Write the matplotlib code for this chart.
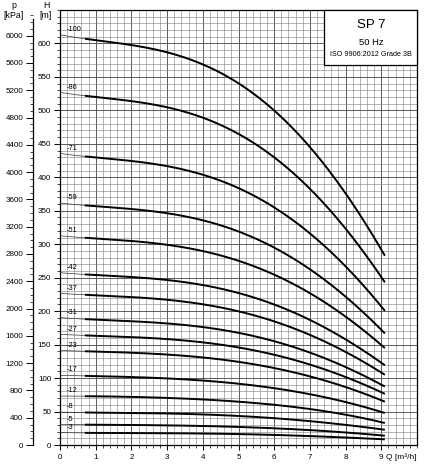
import numpy as np
import matplotlib
matplotlib.use('Agg')
import matplotlib.pyplot as plt
from matplotlib.patches import Rectangle
from matplotlib.ticker import MultipleLocator

plt.rcParams['font.family'] = ['Liberation Sans', 'DejaVu Sans']

Q_POINTS = [0, 1, 2, 3, 4, 5, 6, 7, 8, 8.5, 9.1]

# Number of stages for each curve
STAGES = [100, 86, 71, 59, 51, 42, 37, 31, 27, 23, 17, 12, 8, 5, 3]

# Head (m) per curve at Q_POINTS
H_100 = [612, 607, 598, 585, 567, 542, 500, 448, 374, 333, 285]
H_86 = [526, 522, 514, 503, 488, 466, 430, 385, 322, 286, 245]
H_71 = [435, 431, 425, 415, 403, 385, 355, 318, 266, 236, 202]
H_59 = [361, 358, 353, 345, 335, 320, 295, 264, 221, 196, 168]
H_51 = [312, 310, 305, 298, 289, 276, 255, 228, 191, 170, 146]
H_42 = [257, 255, 251, 246, 238, 228, 210, 188, 157, 140, 120]
H_37 = [226, 225, 221, 216, 210, 200, 185, 166, 138, 123, 106]
H_31 = [190, 188, 185, 181, 176, 168, 155, 139, 116, 103, 88]
H_27 = [165, 164, 161, 158, 153, 146, 135, 121, 101, 90, 77]
H_23 = [141, 140, 138, 135, 130, 125, 115, 103, 86, 77, 65]
H_17 = [104, 103, 102, 99, 96, 92, 85, 76, 64, 57, 48]
H_12 = [73, 73, 72, 70, 68, 65, 60, 54, 45, 40, 33]
H_8 = [49, 48.5, 48, 47, 45.5, 43.5, 40, 36, 30, 26.5, 23]
H_5 = [30.5, 30.5, 30, 29, 28.5, 27, 25, 22.5, 18.5, 16.5, 14]
H_3 = [18.5, 18, 18, 17.5, 17, 16.5, 15, 13.5, 11, 10, 8.5]

HEADS = [H_100, H_86, H_71, H_59, H_51, H_42, H_37, H_31, H_27,
         H_23, H_17, H_12, H_8, H_5, H_3]

KPA_PER_M = 9.81
H_MAX = 650
Q_MAX = 10

W, H = 428, 468
fig = plt.figure(figsize=(W / 100, H / 100), dpi=100)

left, right, bottom, top = 60, 417, 445, 10
ax = fig.add_axes([left / W, 1 - bottom / H, (right - left) / W, (bottom - top) / H])
ax.set_xlim(0, Q_MAX)
ax.set_ylim(0, H_MAX)

# grid
ax.xaxis.set_major_locator(MultipleLocator(1))
ax.xaxis.set_minor_locator(MultipleLocator(0.2))
ax.yaxis.set_major_locator(MultipleLocator(50))
ax.yaxis.set_minor_locator(MultipleLocator(10))
ax.grid(which='major', color='#505050', linewidth=0.65)
ax.grid(which='minor', color='#7c7c7c', linewidth=0.4)
ax.set_axisbelow(True)

for sp in ax.spines.values():
    sp.set_linewidth(0.9)
    sp.set_color('black')

ax.tick_params(axis='both', which='major', labelsize=5.8, width=0.7, color='black')
ax.tick_params(axis='x', which='major', length=3.5, pad=3)
ax.tick_params(axis='x', which='minor', length=2, width=0.5)
ax.tick_params(axis='y', which='major', length=4.3, pad=2)
ax.tick_params(axis='y', which='minor', length=2, width=0.5)
ax.set_xticks(range(0, 10))
ax.set_yticks(range(0, 601, 50))

# pump curves
for n, h in zip(STAGES, HEADS):
    coef = np.polyfit(Q_POINTS, h, 4)
    q_thin = np.linspace(0, 0.7, 20)
    q_thick = np.linspace(0.7, Q_POINTS[-1], 200)
    ax.plot(q_thin, np.polyval(coef, q_thin), color='#333333', lw=0.5, zorder=3)
    ax.plot(q_thick, np.polyval(coef, q_thick), color='black', lw=1.4,
            solid_capstyle='butt', zorder=3)
    ax.text(0.2, h[0] + 3, f'-{n}', fontsize=5.3, ha='left', va='bottom', zorder=4)

# info box
ax.add_patch(Rectangle((7.4, 568), Q_MAX - 7.4, H_MAX - 568, facecolor='white',
                       edgecolor='black', lw=0.9, zorder=5, clip_on=False))
ax.text(8.72, 627, 'SP 7', fontsize=9.5, ha='center', va='center', zorder=6)
ax.text(8.72, 602, '50 Hz', fontsize=6.8, ha='center', va='center', zorder=6)
ax.text(8.72, 584, 'ISO 9906:2012 Grade 3B', fontsize=5.2, ha='center', va='center', zorder=6)

# axis titles
fig.text(386 / W, 1 - 457 / H, 'Q [m³/h]', fontsize=6, ha='left', va='center')
fig.text(46 / W, 1 - 5 / H, 'H', fontsize=6.3, ha='center', va='center')
fig.text(46 / W, 1 - 15.5 / H, '[m]', fontsize=6.3, ha='center', va='center')
fig.text(14 / W, 1 - 5 / H, 'p', fontsize=6.3, ha='center', va='center')
fig.text(14 / W, 1 - 15.5 / H, '[kPa]', fontsize=6.3, ha='center', va='center')

# pressure axis
axp = fig.add_axes([33 / W, 1 - bottom / H, 0.0001, (bottom - top) / H])
axp.set_ylim(0, H_MAX * KPA_PER_M)
for k in ['right', 'top', 'bottom']:
    axp.spines[k].set_visible(False)
axp.spines['left'].set_linewidth(0.9)
axp.spines['left'].set_bounds(0, 6250)
axp.set_xticks([])
axp.yaxis.set_major_locator(MultipleLocator(400))
axp.yaxis.set_minor_locator(MultipleLocator(100))
axp.set_yticks(range(0, 6001, 400))
axp.tick_params(axis='y', which='major', length=5, width=0.7, labelsize=5.8, pad=2)
axp.tick_params(axis='y', which='minor', length=2.5, width=0.5)
axp.patch.set_visible(False)

fig.savefig('out.png', dpi=100)
